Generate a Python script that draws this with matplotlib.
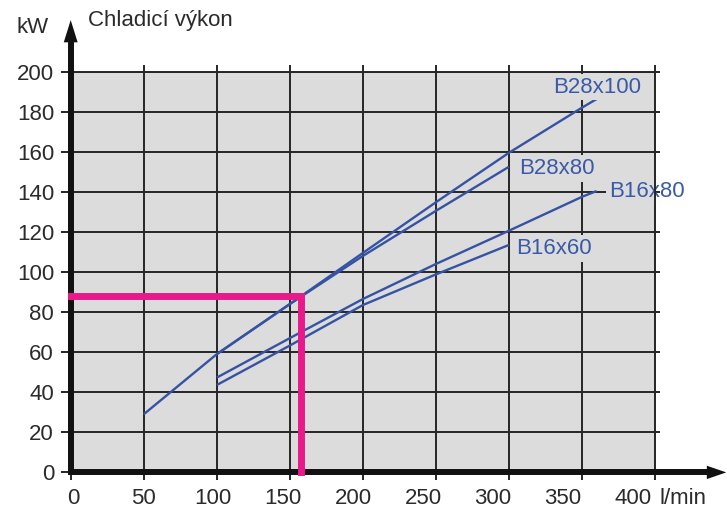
import matplotlib
matplotlib.use("Agg")
import matplotlib.pyplot as plt
from matplotlib.transforms import ScaledTranslation

plt.rcParams['font.family'] = ['Liberation Sans', 'DejaVu Sans']

# Cooling capacity (kW) versus coolant flow (l/min) for four exchanger sizes
flow_b28x100 = [50, 100, 150, 200, 250, 300, 350, 360]
power_b28x100 = [29, 59, 84, 109.5, 134.8, 159.5, 182, 186.3]

flow_b28x80 = [100, 150, 200, 250, 300]
power_b28x80 = [59, 84, 108, 130.5, 152.5]

flow_b16x80 = [100, 150, 200, 250, 300, 350, 360]
power_b16x80 = [47.3, 67, 86.5, 104, 120.6, 137.5, 140.4]

flow_b16x60 = [100, 150, 200, 250, 300]
power_b16x60 = [43.6, 63.3, 83.5, 98.8, 113.5]

series_names = ['B28x100', 'B28x80', 'B16x80', 'B16x60']

# Example operating point
op_flow = 158
op_power = 88

x_ticks = [0, 50, 100, 150, 200, 250, 300, 350, 400]
y_ticks = [0, 20, 40, 60, 80, 100, 120, 140, 160, 180, 200]

x_unit = 'l/min'
y_unit = 'kW'
title = 'Chladicí výkon'

# Styling
panel_gray = '#dcdcdc'
grid_ink = '#262626'
axis_ink = '#111111'
text_ink = '#2b2b2b'
curve_blue = '#3653a3'
label_blue = '#3b5aa6'
pink = '#e8198b'

# Where each series name sits (data coords, centre of text)
label_pos = {
    'B28x100': (360.3, 192.3),
    'B28x80': (333.0, 151.7),
    'B16x80': (394.5, 140.1),
    'B16x60': (331.0, 111.8),
}

fig = plt.figure(figsize=(7.27, 5.15), dpi=100)
ax = fig.add_axes([0.09725, 0.08272, 0.80371, 0.77825])
ax.set_facecolor(panel_gray)
ax.set_xlim(0, 400)
ax.set_ylim(0, 200)

ax.set_xticks(x_ticks)
ax.set_yticks(y_ticks)
ax.set_xticklabels([str(v) for v in x_ticks])
ax.set_yticklabels([str(v) for v in y_ticks])

ax.grid(True, color=grid_ink, lw=1.4)
ax.set_axisbelow('line')

for side in ('top', 'right'):
    ax.spines[side].set_color(grid_ink)
    ax.spines[side].set_linewidth(1.4)
for side in ('left', 'bottom'):
    ax.spines[side].set_visible(False)

ax.tick_params(axis='both', which='major', direction='out', color=grid_ink,
               width=1.4, labelsize=16, labelcolor=text_ink)
ax.tick_params(axis='x', top=True, length=6.0, pad=5.0)
ax.tick_params(axis='y', right=True, length=7.0, pad=5.0)

# right-hand stubs are shorter than the left-hand ones
for tick in ax.yaxis.get_major_ticks():
    tick.tick2line.set_markersize(3.6)
for tick in ax.xaxis.get_major_ticks():
    tick.tick2line.set_markersize(4.7)

# x tick labels drift slightly left of their ticks
for value, tick in zip(x_ticks, ax.xaxis.get_major_ticks()):
    shift_pt = 2.0 - 0.045 * value
    tick.label1.set_transform(tick.label1.get_transform()
                              + ScaledTranslation(shift_pt / 72, 0, fig.dpi_scale_trans))

# Curves
series = [
    (flow_b28x100, power_b28x100),
    (flow_b28x80, power_b28x80),
    (flow_b16x80, power_b16x80),
    (flow_b16x60, power_b16x60),
]
for fx, py in series:
    ax.plot(fx, py, color=curve_blue, lw=1.7, zorder=2,
            solid_capstyle='butt', solid_joinstyle='round')

# Series names on a panel-coloured backing that hides the grid
for name in series_names:
    lx, ly = label_pos[name]
    t = ax.text(lx, ly, name, ha='center', va='center', fontsize=16,
                color=label_blue, zorder=2.4,
                bbox=dict(boxstyle='square,pad=0.12', fc=panel_gray, ec='none'))
    patch = t.get_bbox_patch()
    patch.set_clip_path(ax.patch)
    patch.set_clip_on(True)

# Axis arrows
ax.plot([0, 0], [0, 214], color=axis_ink, lw=4.3, clip_on=False,
        solid_capstyle='projecting', zorder=3)
ax.plot([0, 436], [0, 0], color=axis_ink, lw=4.3, clip_on=False,
        solid_capstyle='projecting', zorder=3)
ax.annotate('', xy=(0, 225.7), xytext=(0, 0), annotation_clip=False,
            arrowprops=dict(arrowstyle='-|>,head_length=16,head_width=5',
                            mutation_scale=1, lw=0, color=axis_ink,
                            shrinkA=0, shrinkB=0), zorder=3)
ax.annotate('', xy=(448.8, 0), xytext=(0, 0), annotation_clip=False,
            arrowprops=dict(arrowstyle='-|>,head_length=14,head_width=4.8',
                            mutation_scale=1, lw=0, color=axis_ink,
                            shrinkA=0, shrinkB=0), zorder=3)

# Operating point guide
ax.plot([0, op_flow, op_flow], [op_power, op_power, 0], color=pink, lw=5,
        clip_on=False, solid_capstyle='projecting', solid_joinstyle='miter',
        zorder=4)

# Units and title
ax.annotate(x_unit, xy=(400, 0), xytext=(3, -(6.0 + 5.0)),
            textcoords='offset points', ha='left', va='top',
            fontsize=16, color=text_ink, annotation_clip=False)
fig.text(16.7 / 727, (515 - 33) / 515, y_unit, ha='left', va='baseline',
         fontsize=16, color=text_ink)
fig.text(88 / 727, (515 - 26) / 515, title, ha='left', va='baseline',
         fontsize=16, color=text_ink)

fig.savefig('out.png', dpi=100)
